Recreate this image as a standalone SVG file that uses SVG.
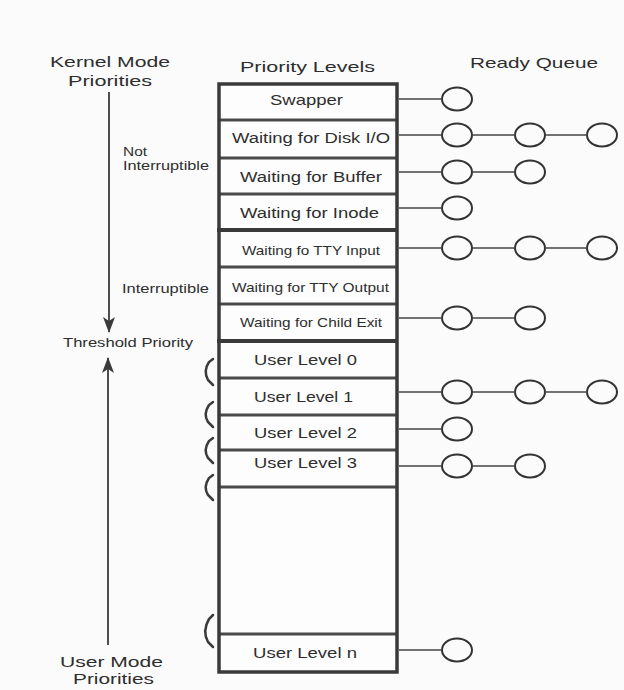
<svg xmlns="http://www.w3.org/2000/svg" width="624" height="690" viewBox="0 0 624 690">
<defs>
<style>
text{font-family:"Liberation Sans",Arial,sans-serif;fill:#2e2e2e;}
.h{font-size:15px;}
.r{font-size:14px;}
.s{font-size:13px;}
.n{font-size:12.5px;}
.u{font-size:15px;}
.sep{stroke:#4a4a4a;stroke-width:3;}
.thick{stroke:#3a3a3a;stroke-width:4;}
.q{fill:none;stroke:#333;stroke-width:2;}
.ln{stroke:#444;stroke-width:1.5;fill:none;}
.br{fill:none;stroke:#3a3a3a;stroke-width:2.5;stroke-linecap:round;}
.ax{stroke:#3a3a3a;stroke-width:1.8;}
</style>
<marker id="ah" viewBox="0 0 16 12" refX="15" refY="6" markerWidth="16" markerHeight="12" markerUnits="userSpaceOnUse" orient="auto">
<path d="M0,0 L16,6 L0,12 L4,6 Z" fill="#3a3a3a"/>
</marker>
</defs>
<rect width="624" height="690" fill="#fbfbfb"/>

<g id="left-labels">
<text class="h" x="50" y="67" textLength="120" lengthAdjust="spacingAndGlyphs">Kernel Mode</text>
<text class="h" x="68" y="86" textLength="84" lengthAdjust="spacingAndGlyphs">Priorities</text>
<text class="n" x="123" y="156" textLength="24" lengthAdjust="spacingAndGlyphs">Not</text>
<text class="n" x="123" y="170" textLength="86" lengthAdjust="spacingAndGlyphs">Interruptible</text>
<text class="s" x="122" y="293" textLength="87" lengthAdjust="spacingAndGlyphs">Interruptible</text>
<text class="s" x="63" y="347" textLength="130" lengthAdjust="spacingAndGlyphs">Threshold Priority</text>
<text class="h" x="60" y="667" textLength="103" lengthAdjust="spacingAndGlyphs">User Mode</text>
<text class="h" x="73" y="684" textLength="81" lengthAdjust="spacingAndGlyphs">Priorities</text>
</g>

<g id="headers">
<text class="h" x="240" y="72" textLength="135" lengthAdjust="spacingAndGlyphs">Priority Levels</text>
<text class="h" x="470" y="68" textLength="128" lengthAdjust="spacingAndGlyphs">Ready Queue</text>
</g>

<g id="priority-table">
<rect x="219" y="84" width="178" height="588" fill="#fdfdfd" stroke="none"/>
<line class="sep" x1="219" y1="120" x2="397" y2="120"/>
<line class="sep" x1="219" y1="158" x2="397" y2="158"/>
<line class="sep" x1="219" y1="194" x2="397" y2="194"/>
<line class="thick" x1="217" y1="230" x2="398" y2="230"/>
<line class="sep" x1="219" y1="267" x2="397" y2="267"/>
<line class="sep" x1="219" y1="304" x2="397" y2="304"/>
<line class="thick" x1="217" y1="341" x2="398" y2="341"/>
<line class="sep" x1="219" y1="378" x2="397" y2="378"/>
<line class="sep" x1="219" y1="415" x2="397" y2="415"/>
<line class="sep" x1="219" y1="450" x2="397" y2="450"/>
<line class="sep" x1="219" y1="487" x2="397" y2="487"/>
<line class="sep" x1="219" y1="634" x2="397" y2="634"/>
<rect x="219" y="84" width="178" height="588" fill="none" stroke="#3a3a3a" stroke-width="3.5"/>
</g>

<g id="row-swapper"><text class="u" x="270" y="105" textLength="73" lengthAdjust="spacingAndGlyphs">Swapper</text></g>
<g id="row-disk"><text class="r" x="232" y="143" textLength="158" lengthAdjust="spacingAndGlyphs">Waiting for Disk I/O</text></g>
<g id="row-buffer"><text class="r" x="240" y="182" textLength="142" lengthAdjust="spacingAndGlyphs">Waiting for Buffer</text></g>
<g id="row-inode"><text class="r" x="240" y="218" textLength="139" lengthAdjust="spacingAndGlyphs">Waiting for Inode</text></g>
<g id="row-tty-input"><text class="s" x="242" y="255" textLength="138" lengthAdjust="spacingAndGlyphs">Waiting fo TTY Input</text></g>
<g id="row-tty-output"><text class="s" x="232" y="292" textLength="157" lengthAdjust="spacingAndGlyphs">Waiting for TTY Output</text></g>
<g id="row-child"><text class="s" x="240" y="327" textLength="142" lengthAdjust="spacingAndGlyphs">Waiting for Child Exit</text></g>
<g id="row-user0"><text class="u" x="254" y="365" textLength="103" lengthAdjust="spacingAndGlyphs">User Level 0</text></g>
<g id="row-user1"><text class="u" x="254" y="402" textLength="99" lengthAdjust="spacingAndGlyphs">User Level 1</text></g>
<g id="row-user2"><text class="u" x="254" y="438" textLength="103" lengthAdjust="spacingAndGlyphs">User Level 2</text></g>
<g id="row-user3"><text class="u" x="254" y="468" textLength="103" lengthAdjust="spacingAndGlyphs">User Level 3</text></g>
<g id="row-usern"><text class="u" x="253" y="658" textLength="104" lengthAdjust="spacingAndGlyphs">User Level n</text></g>

<g id="brackets">
<path class="br" d="M213,359 L209,362 Q203,371 208,380 L213,385"/>
<path class="br" d="M213,402 L209,405 Q203,414 208,422 L213,427"/>
<path class="br" d="M213,438 L209,441 Q203,450 208,458 L213,463"/>
<path class="br" d="M213,475 L209,478 Q203,487 208,495 L213,500"/>
<path class="br" d="M213,615 L209,619 Q202,631 208,642 L213,647"/>
</g>

<g id="queues">
<ellipse class="q" cx="457" cy="99" rx="15" ry="11.5"/>
<ellipse class="q" cx="457" cy="135" rx="15" ry="11.5"/>
<ellipse class="q" cx="530" cy="135" rx="15" ry="11.5"/>
<ellipse class="q" cx="602" cy="135" rx="15" ry="11.5"/>
<ellipse class="q" cx="457" cy="172" rx="15" ry="11.5"/>
<ellipse class="q" cx="530" cy="172" rx="15" ry="11.5"/>
<ellipse class="q" cx="457" cy="208" rx="15" ry="11.5"/>
<ellipse class="q" cx="457" cy="248" rx="15" ry="11.5"/>
<ellipse class="q" cx="530" cy="248" rx="15" ry="11.5"/>
<ellipse class="q" cx="602" cy="248" rx="15" ry="11.5"/>
<ellipse class="q" cx="457" cy="318" rx="15" ry="11.5"/>
<ellipse class="q" cx="530" cy="318" rx="15" ry="11.5"/>
<ellipse class="q" cx="457" cy="392" rx="15" ry="11.5"/>
<ellipse class="q" cx="530" cy="392" rx="15" ry="11.5"/>
<ellipse class="q" cx="602" cy="392" rx="15" ry="11.5"/>
<ellipse class="q" cx="457" cy="429" rx="15" ry="11.5"/>
<ellipse class="q" cx="457" cy="466" rx="15" ry="11.5"/>
<ellipse class="q" cx="530" cy="466" rx="15" ry="11.5"/>
<ellipse class="q" cx="457" cy="650" rx="15" ry="11.5"/>
</g>

<g id="connectors">
<line class="ln" x1="399" y1="99" x2="442" y2="99"/>
<line class="ln" x1="399" y1="135" x2="442" y2="135"/>
<line class="ln" x1="472" y1="135" x2="515" y2="135"/>
<line class="ln" x1="545" y1="135" x2="587" y2="135"/>
<line class="ln" x1="399" y1="172" x2="442" y2="172"/>
<line class="ln" x1="472" y1="172" x2="515" y2="172"/>
<line class="ln" x1="399" y1="208" x2="442" y2="208"/>
<line class="ln" x1="399" y1="248" x2="442" y2="248"/>
<line class="ln" x1="472" y1="248" x2="515" y2="248"/>
<line class="ln" x1="545" y1="248" x2="587" y2="248"/>
<line class="ln" x1="399" y1="318" x2="442" y2="318"/>
<line class="ln" x1="472" y1="318" x2="515" y2="318"/>
<line class="ln" x1="399" y1="392" x2="442" y2="392"/>
<line class="ln" x1="472" y1="392" x2="515" y2="392"/>
<line class="ln" x1="545" y1="392" x2="587" y2="392"/>
<line class="ln" x1="399" y1="429" x2="442" y2="429"/>
<line class="ln" x1="399" y1="466" x2="442" y2="466"/>
<line class="ln" x1="472" y1="466" x2="515" y2="466"/>
<line class="ln" x1="399" y1="650" x2="442" y2="650"/>
<line class="ax" x1="109" y1="92" x2="109" y2="332" marker-end="url(#ah)"/>
<line class="ax" x1="108" y1="645" x2="108" y2="358" marker-end="url(#ah)"/>
</g>
</svg>
